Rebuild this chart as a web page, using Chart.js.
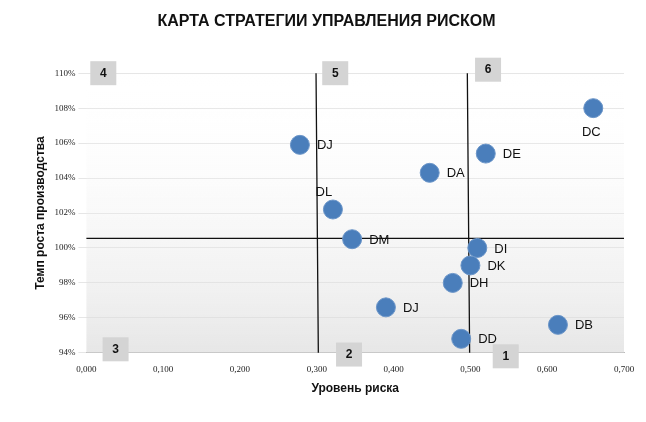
<!DOCTYPE html>
<html><head><meta charset="utf-8">
<script src="https://cdn.jsdelivr.net/npm/chart.js@4/dist/chart.umd.min.js"></script>
<style>body{margin:0;background:#fff}#wrap{width:646px;height:422px}</style>
</head><body><div id="wrap"><canvas id="c"></canvas></div>
<script>
const names = ['DC','DJ','DE','DA','DL','DM','DI','DK','DH','DJ','DB','DD'];
const risk = [0.660,0.278,0.520,0.447,0.321,0.346,0.509,0.500,0.477,0.390,0.614,0.488];
const growth = [108.0,105.9,105.4,104.3,102.2,100.5,100.0,99.0,98.0,96.6,95.6,94.8];
// label placement: r = right, b = below, a = above
const labelPos = ['b','r','r','r','a','r','r','r','r','r','r','r'];
const boxNums = ['4','5','6','3','2','1'];
const boxX = [0.022,0.324,0.523,0.038,0.342,0.546];
const boxY = [110,110,110.2,94.2,93.9,93.8];
const hLineY = 100.55;
const vLine1 = [0.299,0.302];
const vLine2 = [0.496,0.499];

const extras = {
  id:'extras',
  beforeDatasetsDraw(chart){
    const {ctx, chartArea:a, scales:{x,y}} = chart;
    const g = ctx.createLinearGradient(0,a.top,0,a.bottom);
    g.addColorStop(0,'rgba(255,255,255,0)');
    g.addColorStop(1,'rgba(215,215,215,0.6)');
    ctx.save();
    ctx.fillStyle = g;
    ctx.fillRect(a.left,a.top,a.right-a.left,a.bottom-a.top);
    ctx.strokeStyle='#111';ctx.lineWidth=1.3;
    ctx.beginPath();
    ctx.moveTo(a.left,y.getPixelForValue(hLineY));ctx.lineTo(a.right,y.getPixelForValue(hLineY));
    ctx.moveTo(x.getPixelForValue(vLine1[0]),a.top);ctx.lineTo(x.getPixelForValue(vLine1[1]),a.bottom);
    ctx.moveTo(x.getPixelForValue(vLine2[0]),a.top);ctx.lineTo(x.getPixelForValue(vLine2[1]),a.bottom);
    ctx.stroke();
    ctx.restore();
  },
  afterDatasetsDraw(chart){
    const {ctx, scales:{x,y}} = chart;
    ctx.save();
    ctx.font = '13px "Liberation Sans", Arial';
    ctx.fillStyle = '#111';
    names.forEach((n,i)=>{
      const px = x.getPixelForValue(risk[i]), py = y.getPixelForValue(growth[i]);
      if(labelPos[i]==='r'){ctx.textAlign='left';ctx.textBaseline='middle';ctx.fillText(n,px+17,py+1);}
      else if(labelPos[i]==='b'){ctx.textAlign='center';ctx.textBaseline='top';ctx.fillText(n,px-2,py+18);}
      else {ctx.textAlign='center';ctx.textBaseline='bottom';ctx.fillText(n,px-9,py-11);}
    });
    ctx.font = 'bold 12px "Liberation Sans", Arial';
    ctx.textAlign='center';ctx.textBaseline='middle';
    boxNums.forEach((b,i)=>{
      const px = x.getPixelForValue(boxX[i]), py = y.getPixelForValue(boxY[i]);
      ctx.fillStyle='#d4d4d4';ctx.fillRect(px-13,py-12,26,24);
      ctx.fillStyle='#111';ctx.fillText(b,px,py);
    });
    ctx.restore();
  }
};

new Chart(document.getElementById('c'),{
  type:'scatter',
  data:{datasets:[{
    data: risk.map((r,i)=>({x:r,y:growth[i]})),
    backgroundColor:'#4a7ebb',
    borderColor:'#6b95c8',
    borderWidth:1,
    pointRadius:9.5,
    pointHoverRadius:9.5
  }]},
  options:{
    responsive:true,maintainAspectRatio:false,animation:false,
    layout:{padding:{left:29,right:22,top:4,bottom:22}},
    plugins:{
      legend:{display:false},tooltip:{enabled:false},
      title:{display:true,text:'КАРТА СТРАТЕГИИ УПРАВЛЕНИЯ РИСКОМ',color:'#111',
        font:{family:'"Liberation Sans", Arial',size:16,weight:'bold'},padding:{top:8,bottom:42}}
    },
    scales:{
      x:{min:0,max:0.7,
        ticks:{stepSize:0.1,color:'#222',font:{family:'"Liberation Serif", serif',size:9},
          callback:v=>v.toFixed(3).replace('.',',')},
        grid:{display:false},border:{color:'#bbb'},
        title:{display:true,text:'Уровень риска',color:'#111',font:{family:'"Liberation Sans", Arial',size:12,weight:'bold'}}},
      y:{min:94,max:110,
        ticks:{stepSize:2,color:'#222',font:{family:'"Liberation Serif", serif',size:9},callback:v=>v+'%'},
        grid:{color:'#e6e6e6'},border:{display:false},
        title:{display:true,text:'Темп роста производства',color:'#111',font:{family:'"Liberation Sans", Arial',size:12,weight:'bold'}}}
    }
  },
  plugins:[extras]
});
</script></body></html>
